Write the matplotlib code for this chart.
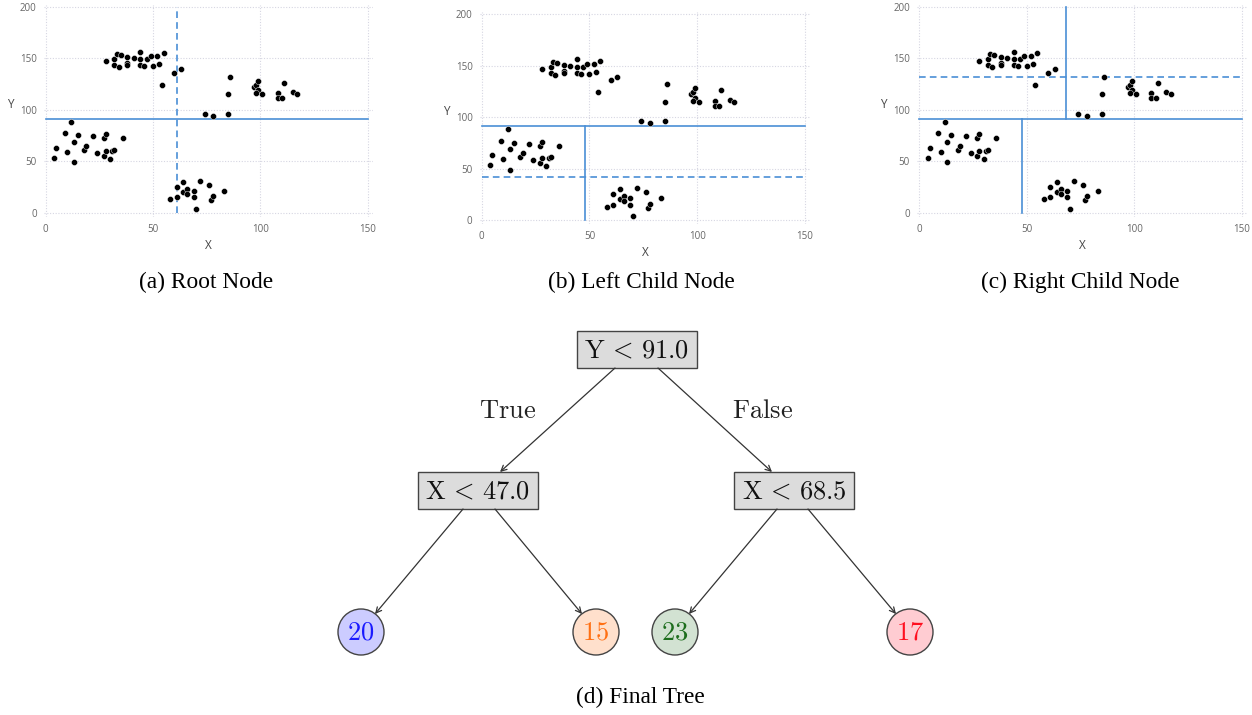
import matplotlib
matplotlib.use("Agg")
import matplotlib.pyplot as plt
from matplotlib.patches import Rectangle, Circle

plt.rcParams['mathtext.fontset'] = 'cm'

# ---------------- data ----------------
pts_x = [4, 5, 9, 10, 12, 13, 13, 15, 18, 19, 22, 24, 27, 27, 28, 28, 30, 31, 32, 36,
         58, 61, 61, 64, 64, 66, 66, 69, 69, 70, 72, 76, 77, 78, 83,
         28, 32, 32, 33, 34, 35, 38, 38, 38, 41, 44, 44, 44, 46, 47, 49, 50, 52, 53, 54, 55, 60, 63,
         74, 78, 85, 85, 86, 97, 98, 99, 99, 98, 101, 108, 108, 110, 111, 115, 117]
pts_y = [53, 63, 77, 59, 88, 69, 49, 75, 61, 65, 74, 58, 72, 55, 76, 60, 52, 60, 61, 72,
         13, 25, 15, 30, 20, 23, 18, 21, 15, 4, 31, 27, 12, 16, 21,
         147, 149, 143, 154, 141, 153, 151, 145, 143, 150, 156, 149, 143, 142, 149, 152, 142, 152, 144, 124, 155, 136, 139,
         96, 94, 115, 96, 132, 122, 124, 128, 119, 116, 115, 116, 111, 111, 126, 117, 115]

y_root = 91.0
x_left = 48.0
x_right = 68.5
y_left_cand = 42.0
x_root_cand = 61.0
y_right_cand = 132.0

captions = ["(a) Root Node", "(b) Left Child Node", "(c) Right Child Node", "(d) Final Tree"]
node_labels = [r"$\mathrm{Y}\,<\,91.0$", r"$\mathrm{X}\,<\,47.0$", r"$\mathrm{X}\,<\,68.5$"]
leaf_counts = [20, 15, 23, 17]
leaf_fill = ["#ccccff", "#ffe0cc", "#d2e2d2", "#ffccd2"]
leaf_text = ["#1a1aff", "#ff7014", "#1e6e1e", "#ff1020"]
edge_labels = [r"$\mathrm{True}$", r"$\mathrm{False}$"]

W, H = 1252, 715
fig = plt.figure(figsize=(W / 100, H / 100), dpi=100)

BLUE = "#4a8fd6"
GRIDC = "#d6d6e2"


def make_scatter(rect):
    ax = fig.add_axes(rect)
    ax.scatter(pts_x, pts_y, s=19, c="black", edgecolors="white", linewidths=0.3, zorder=3)
    ax.set_xlim(-1, 152.6)
    ax.set_ylim(-4, 202)
    ax.set_xticks([0, 50, 100, 150])
    ax.set_yticks([0, 50, 100, 150, 200])
    ax.grid(True, color=GRIDC, linestyle=(0, (1, 1.5)), linewidth=0.8)
    for s in ax.spines.values():
        s.set_visible(False)
    ax.tick_params(length=0, labelsize=7, labelcolor="#666666", pad=5)
    ax.set_xlabel("X", fontsize=8.5, color="#444444", labelpad=3, family="Open Sans")
    ax.set_ylabel("Y", fontsize=8.5, color="#444444", rotation=0, labelpad=7, family="Open Sans")
    for lab in ax.get_xticklabels() + ax.get_yticklabels():
        lab.set_family("Open Sans")
    return ax


ax_a = make_scatter([0.0348, 0.6968, 0.2633, 0.2968])
ax_a.plot([0, 150], [y_root, y_root], color=BLUE, lw=1.2, zorder=2)
ax_a.plot([x_root_cand, x_root_cand], [0, 200], color=BLUE, lw=1.2, ls=(0, (4, 2.5)), zorder=2)

ax_b = make_scatter([0.383, 0.6866, 0.2645, 0.2964])
ax_b.plot([0, 150], [y_root, y_root], color=BLUE, lw=1.2, zorder=2)
ax_b.plot([x_left, x_left], [0, y_root], color=BLUE, lw=1.2, zorder=2)
ax_b.plot([0, 150], [y_left_cand, y_left_cand], color=BLUE, lw=1.2, ls=(0, (4, 2.5)), zorder=2)

ax_c = make_scatter([0.7323, 0.6968, 0.264, 0.2968])
ax_c.plot([0, 150], [y_root, y_root], color=BLUE, lw=1.2, zorder=2)
ax_c.plot([x_left, x_left], [0, y_root], color=BLUE, lw=1.2, zorder=2)
ax_c.plot([x_right, x_right], [y_root, 200], color=BLUE, lw=1.2, zorder=2)
ax_c.plot([0, 150], [y_right_cand, y_right_cand], color=BLUE, lw=1.2, ls=(0, (4, 2.5)), zorder=2)

# ---------------- tree in pixel coordinates ----------------
tx = fig.add_axes([0, 0, 1, 1], zorder=-1)
tx.set_xlim(0, W)
tx.set_ylim(H, 0)
tx.axis("off")

cap_font = dict(family="Liberation Serif", fontsize=16.8, color="black", ha="center", va="center")
tx.text(206, 282, captions[0], **cap_font)
tx.text(641, 282, captions[1], **cap_font)
tx.text(1080, 282, captions[2], **cap_font)
tx.text(640, 697, captions[3], **cap_font)

boxes = [(577, 331, 120, 37), (418, 472, 120, 37), (734, 472, 120, 37)]
for (bx, by, bw, bh), lab in zip(boxes, node_labels):
    tx.add_patch(Rectangle((bx, by), bw, bh, facecolor="#dcdcdc", edgecolor="#444444", lw=1.0))
    tx.text(bx + bw / 2, by + bh / 2 + 1, lab, fontsize=19, ha="center", va="center", color="#111111")

leaf_cx = [361, 596, 675, 910]
leaf_cy = 632
R = 23
for cx, n, fc, tc in zip(leaf_cx, leaf_counts, leaf_fill, leaf_text):
    tx.add_patch(Circle((cx, leaf_cy), R, facecolor=fc, edgecolor="#444444", lw=1.0))
    tx.text(cx, leaf_cy + 1, r"$%d$" % n, fontsize=19, ha="center", va="center", color=tc)

edges = [((615, 368), (500, 472)), ((658, 368), (772, 472)),
         ((463, 509), (375, 614)), ((495, 509), (582, 614)),
         ((777, 509), (689, 614)), ((808, 509), (896, 614))]
for (x0, y0), (x1, y1) in edges:
    tx.annotate("", xy=(x1, y1), xytext=(x0, y0),
                arrowprops=dict(arrowstyle="->", color="#333333", lw=0.9,
                                shrinkA=0, shrinkB=0, mutation_scale=10))

tx.text(508, 411, edge_labels[0], fontsize=19, ha="center", va="center", color="#222222")
tx.text(763, 411, edge_labels[1], fontsize=19, ha="center", va="center", color="#222222")

fig.savefig("out.png", dpi=100, facecolor="white")
